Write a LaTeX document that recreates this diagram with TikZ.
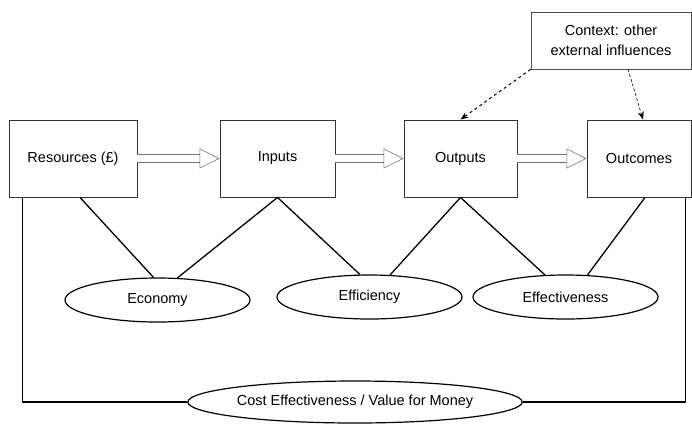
\documentclass[tikz,border=0pt]{standalone}
\usepackage{fontspec}
\setmainfont{Liberation Sans}
\usetikzlibrary{arrows.meta, positioning, shapes.geometric}

\begin{document}
\begin{tikzpicture}[
		x=1pt, y=-1pt,
		every node/.style={font=\fontsize{14.5}{20}\selectfont},
		blk/.style={draw=black!80, line width=0.9pt, fill=white, minimum height=77pt, inner sep=0pt, align=center},
		oval/.style={ellipse, draw, line width=1.2pt, inner sep=0pt, minimum height=44pt},
		link/.style={line width=1.3pt},
		dbl/.style={draw=black!55, line width=0.6pt, double=white, double distance=7pt,
			-{Triangle[open, length=20pt, width=20pt, line width=0.6pt]}},
		>={Stealth[length=8pt, width=6pt]}
	]
		\useasboundingbox (0,0) rectangle (692,424);

		% ===== Chain of boxes =====
		\node[blk, minimum width=128pt] (res) at (73,158.5) {Resources (\pounds)};
		\node[blk, minimum width=115pt] (inp) at (277.5,158.5) {Inputs};
		\node[blk, minimum width=113pt] (outp) at (460.5,158.5) {Outputs};
		\node[blk, minimum width=104pt] (outc) at (639,158.5) {Outcomes};

		\draw[dbl] (res) -- (inp);
		\draw[dbl] (inp) -- (outp);
		\draw[dbl] (outp) -- (outc);

		% Context
		\node[draw=black!70, line width=0.6pt, fill=white, minimum width=160pt, minimum height=57pt, align=center, inner sep=0pt]
			(ctx) at (611,40.5) {Context: other\\external influences};
		\draw[->, dashed, line width=1pt] (ctx.south west) -- (outp.north);
		\draw[->, densely dashed, line width=0.6pt] ([xshift=17pt]ctx.south) -- ([xshift=4pt]outc.north);

		% ===== Measures =====
		\node[oval, minimum width=185pt] (econ) at (157.5,300) {Economy};
		\node[oval, minimum width=185pt] (effic) at (369.5,297) {Efficiency};
		\node[oval, minimum width=185pt] (effect) at (565.5,297) {Effectiveness};

		\draw[link] ([xshift=7pt]res.south) -- (econ.100);
		\draw[link] (inp.south) -- (econ.48);
		\draw[link] (inp.south) -- (effic.113);
		\draw[link] (outp.south) -- (effic.47);
		\draw[link] (outp.south) -- (effect.133);
		\draw[link] ([xshift=6pt]outc.south) -- (effect.45);

		% Overall
		\node[oval, minimum width=324pt, minimum height=42pt] (cvfm) at (355,402) {Cost Effectiveness / Value for Money};
		\draw[link] ([xshift=14pt]res.south west) |- (cvfm);
		\draw[link] ([xshift=-6pt]outc.south east) |- (cvfm);
	\end{tikzpicture}
\end{document}
